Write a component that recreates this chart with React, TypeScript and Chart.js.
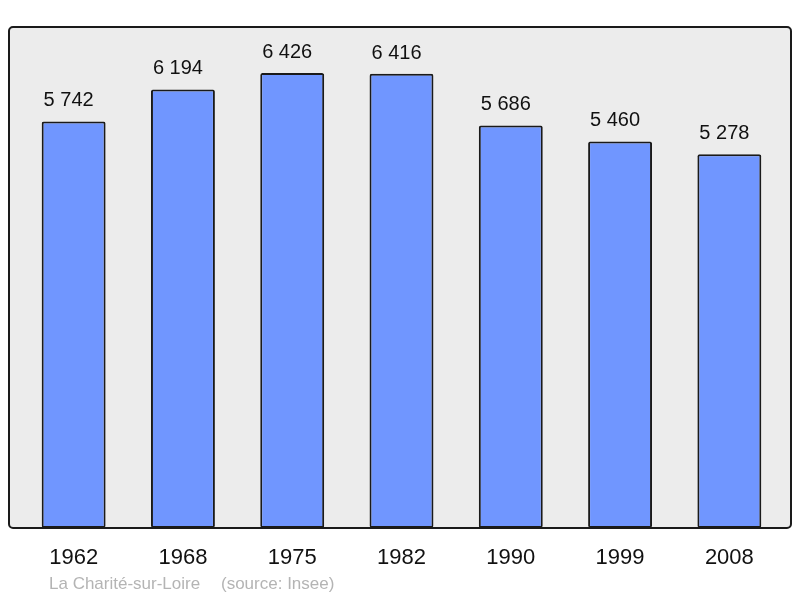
import React, { useEffect, useRef } from "react";
import { Chart, registerables } from "chart.js";

Chart.register(...registerables);

const years: string[] = ["1962", "1968", "1975", "1982", "1990", "1999", "2008"];
const population: number[] = [5742, 6194, 6426, 6416, 5686, 5460, 5278];
const captionPlace = "La Charité-sur-Loire";
const captionSource = "(source: Insee)";

const FONT = "'Liberation Sans', Arial, sans-serif";

function fmt(n: number): string {
  return String(n).replace(/\B(?=(\d{3})+(?!\d))/g, " ");
}

function roundRect(ctx: CanvasRenderingContext2D, x: number, y: number, w: number, h: number, r: number) {
  ctx.beginPath();
  ctx.moveTo(x + r, y);
  ctx.lineTo(x + w - r, y);
  ctx.arcTo(x + w, y, x + w, y + r, r);
  ctx.lineTo(x + w, y + h - r);
  ctx.arcTo(x + w, y + h, x + w - r, y + h, r);
  ctx.lineTo(x + r, y + h);
  ctx.arcTo(x, y + h, x, y + h - r, r);
  ctx.lineTo(x, y + r);
  ctx.arcTo(x, y, x + r, y, r);
  ctx.closePath();
}

const panelPlugin = {
  id: "panel",
  beforeDatasetsDraw(chart: any) {
    const { ctx, chartArea } = chart;
    ctx.save();
    roundRect(ctx, chartArea.left - 10, chartArea.top, chartArea.right - chartArea.left + 17, chartArea.bottom - chartArea.top, 4);
    ctx.fillStyle = "#ececec";
    ctx.fill();
    ctx.restore();
  },
  afterDatasetsDraw(chart: any) {
    const { ctx, chartArea } = chart;
    ctx.save();
    roundRect(ctx, chartArea.left - 10, chartArea.top, chartArea.right - chartArea.left + 17, chartArea.bottom - chartArea.top, 4);
    ctx.lineWidth = 2;
    ctx.strokeStyle = "#1a1a1a";
    ctx.stroke();
    // value labels
    const meta = chart.getDatasetMeta(0);
    ctx.fillStyle = "#111";
    ctx.font = `20px ${FONT}`;
    ctx.textAlign = "center";
    ctx.textBaseline = "alphabetic";
    meta.data.forEach((bar: any, i: number) => {
      ctx.fillText(fmt(population[i]), bar.x - 5, bar.y - 15);
    });
    // caption
    ctx.fillStyle = "#b4b4b4";
    ctx.font = `17px ${FONT}`;
    ctx.textAlign = "left";
    ctx.textBaseline = "middle";
    ctx.fillText(captionPlace, 49, 584);
    ctx.fillText(captionSource, 221, 584);
    ctx.restore();
  },
};

export default function App() {
  const ref = useRef<HTMLCanvasElement>(null);
  useEffect(() => {
    if (!ref.current) return;
    const chart = new Chart(ref.current, {
      type: "bar",
      data: {
        labels: years,
        datasets: [
          {
            data: population,
            backgroundColor: "#7096ff",
            borderColor: "#1a1a1a",
            borderWidth: 2,
            borderRadius: 2,
            borderSkipped: false,
            categoryPercentage: 1,
            barPercentage: 0.585,
          },
        ],
      },
      options: {
        animation: false,
        responsive: false,
        maintainAspectRatio: false,
        layout: { padding: { top: 27, left: 19, right: 16, bottom: 0 } },
        plugins: { legend: { display: false }, tooltip: { enabled: false } },
        scales: {
          y: { display: false, min: 0, max: 7076 },
          x: {
            grid: { display: false, drawTicks: false },
            border: { display: false },
            ticks: { color: "#111", font: { family: FONT, size: 22 }, padding: 17, maxRotation: 0 },
            afterFit: (scale: any) => {
              scale.height = 70;
            },
          },
        },
      },
      plugins: [panelPlugin],
    });
    return () => chart.destroy();
  }, []);
  return (
    <div style={{ position: "fixed", left: 0, top: 0, width: 800, height: 598, background: "#fff" }}>
      <canvas ref={ref} width={800} height={598} style={{ width: 800, height: 598 }} />
    </div>
  );
}
